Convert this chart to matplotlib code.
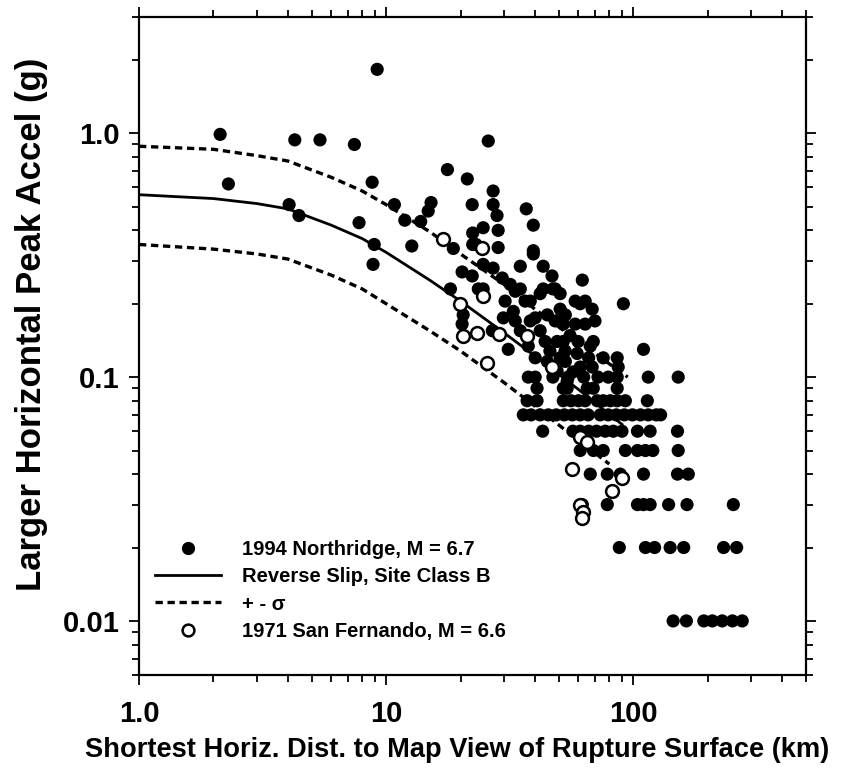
import matplotlib
matplotlib.use("Agg")
import matplotlib.pyplot as plt
from matplotlib.lines import Line2D
from matplotlib.ticker import LogLocator, FixedLocator, FixedFormatter, NullFormatter

plt.rcParams['font.family'] = ['Liberation Sans', 'DejaVu Sans']
plt.rcParams['font.weight'] = 'bold'

# ---- 1994 Northridge data (distance km, PGA g) ----
nr_dist = [2.13, 2.3, 4.27, 5.4, 7.44, 9.2, 4.05, 4.44, 8.78, 7.77, 8.95, 8.85, 10.8,
           11.9, 12.7, 13.8, 15.2, 14.8, 17.7, 21.3, 27.1, 22.3, 27.1, 28.1, 36.9, 39.4,
           25.9, 24.7, 22.4, 28.4, 23.1, 28.4, 39.4, 18.7, 22.4, 39.4, 34.9, 43.2, 46.9,
           20.3, 22.3, 24.7, 27.1, 29.5, 31.8, 18.2, 23.6, 43.2, 48.3, 24.7,
           20.3, 20.5, 26.9, 31.2, 29.8, 32.7, 34.9, 38.3, 42.0, 40.1, 42.0, 44.9, 47.3,
           50.6, 49.2, 40.1, 44.9, 50.6, 49.2, 54.0,
           30.3, 33.3, 36.5, 34.9, 37.6, 44, 46, 33.3, 38.3, 48.3, 53, 55.5, 58.2, 63.9,
           67, 70, 57, 63, 72, 66,
           62.2, 50.6, 61, 68.2, 91.2, 53.1, 52.1, 58.2, 63.9, 52.1, 59.8, 68.9, 110,
           59.3, 53.1, 61, 68.2, 75.6, 86.1, 86.9,
           37.6, 40.1, 47.3, 54.5, 79.2, 86.1, 115, 152,
           40.8, 52.1, 54, 65.1, 68.9, 86.1,
           37.2, 40.8, 52.1, 56, 60, 63.9, 71.5, 75.6, 80.7, 86, 92.9, 114,
           35.9, 38.6, 42, 45.3, 48.8, 52.6, 56.7, 61, 65.7, 73.5, 79.2, 85.4, 92, 99.2,
           107, 115, 124, 129,
           43, 57, 61, 66, 71, 77, 83, 90, 104, 117, 151,
           61, 69, 75.6, 92.9, 104, 112, 120, 152,
           67, 78.5, 88.6, 110, 151, 167,
           62.2, 78.5, 104, 110, 117, 139, 165, 254,
           87.8, 112, 122, 141, 160, 232, 262,
           145, 164, 193, 209, 229, 252, 276]
nr_pga = [0.99, 0.62, 0.94, 0.94, 0.90, 1.83, 0.51, 0.46, 0.63, 0.43, 0.35, 0.29, 0.51,
          0.44, 0.345, 0.435, 0.52, 0.48, 0.71, 0.65, 0.58, 0.51, 0.51, 0.46, 0.49, 0.42,
          0.93, 0.41, 0.39, 0.40, 0.35, 0.34, 0.33, 0.337, 0.35, 0.32, 0.285, 0.285, 0.26,
          0.27, 0.26, 0.29, 0.28, 0.255, 0.24, 0.23, 0.23, 0.23, 0.23, 0.23,
          0.165, 0.18, 0.155, 0.13, 0.175, 0.186, 0.23, 0.205, 0.22, 0.175, 0.155, 0.18, 0.23,
          0.19, 0.14, 0.12, 0.116, 0.12, 0.106, 0.096,
          0.205, 0.17, 0.205, 0.155, 0.134, 0.14, 0.128, 0.225, 0.17, 0.17, 0.128, 0.148,
          0.205, 0.205, 0.134, 0.17, 0.105, 0.10, 0.10, 0.12,
          0.25, 0.22, 0.20, 0.19, 0.20, 0.18, 0.165, 0.165, 0.165, 0.14, 0.14, 0.14, 0.13,
          0.125, 0.116, 0.11, 0.11, 0.12, 0.12, 0.11,
          0.10, 0.10, 0.10, 0.10, 0.10, 0.10, 0.10, 0.10,
          0.09, 0.09, 0.09, 0.09, 0.09, 0.09,
          0.08, 0.08, 0.08, 0.08, 0.08, 0.08, 0.08, 0.08, 0.08, 0.08, 0.08, 0.08,
          0.07, 0.07, 0.07, 0.07, 0.07, 0.07, 0.07, 0.07, 0.07, 0.07, 0.07, 0.07, 0.07, 0.07,
          0.07, 0.07, 0.07, 0.07,
          0.06, 0.06, 0.06, 0.06, 0.06, 0.06, 0.06, 0.06, 0.06, 0.06, 0.06,
          0.05, 0.05, 0.05, 0.05, 0.05, 0.05, 0.05, 0.05,
          0.04, 0.04, 0.04, 0.04, 0.04, 0.04,
          0.03, 0.03, 0.03, 0.03, 0.03, 0.03, 0.03, 0.03,
          0.02, 0.02, 0.02, 0.02, 0.02, 0.02, 0.02,
          0.01, 0.01, 0.01, 0.01, 0.01, 0.01, 0.01]

# ---- 1971 San Fernando data ----
sf_dist = [17.0, 24.5, 19.9, 24.7, 20.4, 23.4, 28.5, 37.2, 25.6, 46.9, 61, 65,
           56.6, 90.2, 82.2, 61, 62.8, 62.2]
sf_pga = [0.37, 0.337, 0.20, 0.215, 0.148, 0.151, 0.15, 0.148, 0.114, 0.11, 0.057,
          0.054, 0.042, 0.0386, 0.034, 0.030, 0.028, 0.0265]

# ---- model curves ----
med_dist = [1, 2, 3, 4, 6, 8, 10, 15, 20, 30, 40, 60, 90]
med_pga = [0.56, 0.54, 0.515, 0.49, 0.42, 0.37, 0.325, 0.25, 0.205, 0.152, 0.122, 0.089, 0.064]
up_dist = [1, 2, 3, 4, 6, 8, 10, 15, 20, 30, 40, 60, 95]
up_pga = [0.885, 0.86, 0.81, 0.77, 0.66, 0.58, 0.51, 0.395, 0.32, 0.24, 0.19, 0.14, 0.10]
lo_dist = [1, 2, 3, 4, 6, 8, 10, 15, 20, 30, 40, 60, 80]
lo_pga = [0.35, 0.335, 0.32, 0.305, 0.262, 0.23, 0.20, 0.155, 0.128, 0.095, 0.076, 0.055, 0.044]

fig = plt.figure(figsize=(8.46, 7.68), dpi=100)
ax = fig.add_axes([139/846, 1 - 675/768, (806-139)/846, (675-17)/768])
ax.set_xscale('log')
ax.set_yscale('log')
ax.set_xlim(1, 500)
ax.set_ylim(0.006, 3)

ax.plot(med_dist, med_pga, color='black', lw=2.0, zorder=2)
ax.plot(up_dist, up_pga, color='black', lw=2.4, ls=(0, (2.2, 1.4)), zorder=2)
ax.plot(lo_dist, lo_pga, color='black', lw=2.4, ls=(0, (2.2, 1.4)), zorder=2)
ax.scatter(nr_dist, nr_pga, s=90, color='black', edgecolors='none', zorder=3)
ax.scatter(sf_dist, sf_pga, s=85, facecolors='white', edgecolors='black', linewidths=1.8, zorder=4)

ax.xaxis.set_major_locator(FixedLocator([1, 10, 100]))
ax.xaxis.set_major_formatter(FixedFormatter(['1.0', '10', '100']))
ax.xaxis.set_minor_locator(LogLocator(base=10, subs=range(2, 10)))
ax.xaxis.set_minor_formatter(NullFormatter())
ax.yaxis.set_major_locator(FixedLocator([0.01, 0.1, 1]))
ax.yaxis.set_major_formatter(FixedFormatter(['0.01', '0.1', '1.0']))
ax.yaxis.set_minor_locator(LogLocator(base=10, subs=range(2, 10)))
ax.yaxis.set_minor_formatter(NullFormatter())

ax.tick_params(which='both', direction='out', top=True, right=True, width=1.3, labelsize=21)
ax.tick_params(which='major', length=7)
ax.tick_params(which='minor', length=5)
ax.tick_params(axis='x', which='major', pad=11)
ax.tick_params(axis='y', which='major', pad=7)
for sp in ax.spines.values():
    sp.set_linewidth(1.6)

ax.set_xlabel('Shortest Horiz. Dist. to Map View of Rupture Surface (km)', fontsize=19.6,
              fontweight='bold')
ax.set_ylabel('Larger Horizontal Peak Accel (g)', fontsize=25, fontweight='bold')
ax.xaxis.set_label_coords((457 - 139) / 667, -(750 - 675) / 658)
ax.yaxis.set_label_coords(-(139 - 31) / 667, (675 - 324) / 658)
ax.xaxis.label.set_va('center')
ax.yaxis.label.set_va('center')

handles = [
    Line2D([], [], marker='o', color='black', ls='none', markersize=8.5),
    Line2D([], [], color='black', lw=2.0),
    Line2D([], [], color='black', lw=2.4, ls=(0, (2.2, 1.4))),
    Line2D([], [], marker='o', markerfacecolor='white', markeredgecolor='black',
           markeredgewidth=1.8, ls='none', markersize=8.5),
]
labels = ['1994 Northridge, M = 6.7', 'Reverse Slip, Site Class B', '+ - σ',
          '1971 San Fernando, M = 6.6']
ax.legend(handles, labels, loc='lower left', bbox_to_anchor=(155/846, 1 - 641/768),
          bbox_transform=fig.transFigure, frameon=False,
          prop={'size': 14.5, 'weight': 'bold'}, handlelength=3.3,
          handletextpad=1.0, labelspacing=0.42, borderpad=0, borderaxespad=0)

fig.savefig('out.png', dpi=100)
